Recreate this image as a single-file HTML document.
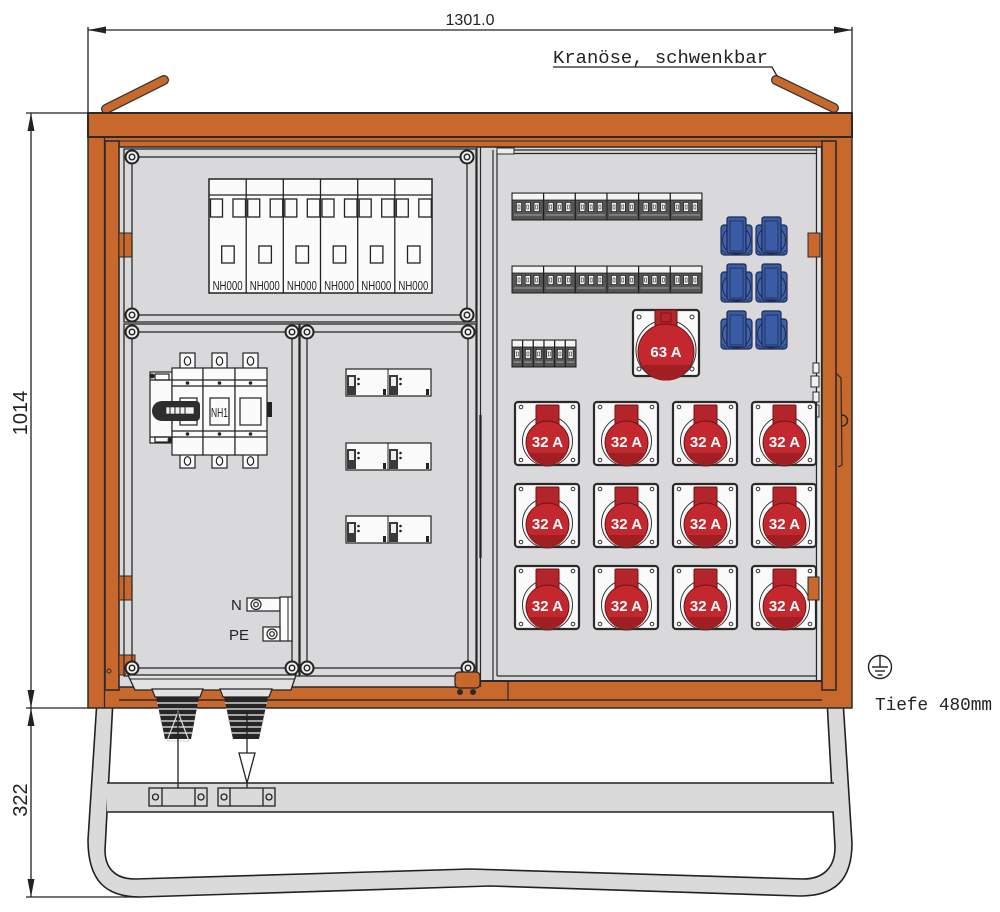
<!DOCTYPE html>
<html><head><meta charset="utf-8"><title>Baustromverteiler</title>
<style>html,body{margin:0;padding:0;background:#fff}svg{display:block}</style></head>
<body>
<svg xmlns="http://www.w3.org/2000/svg" width="1000" height="912" viewBox="0 0 1000 912">
<defs>
<g id="scr"><circle r="6.5" fill="#eeeeee" stroke="#222" stroke-width="2"/><circle r="2.8" fill="none" stroke="#222" stroke-width="1.4"/></g>
<g id="m3">
<rect x="0" y="0" width="31.67" height="27" fill="#555" stroke="#1a1a1a" stroke-width="1"/>
<rect x="0.6" y="0.6" width="30.4" height="6.4" fill="#f4f4f4"/>
<line x1="0" y1="7" x2="31.67" y2="7" stroke="#1a1a1a" stroke-width="0.8"/>
<rect x="4.5" y="9.5" width="5" height="9" fill="#f4f4f4" stroke="#111" stroke-width="0.6"/>
<rect x="13.3" y="9.5" width="5" height="9" fill="#f4f4f4" stroke="#111" stroke-width="0.6"/>
<rect x="22.1" y="9.5" width="5" height="9" fill="#f4f4f4" stroke="#111" stroke-width="0.6"/>
<rect x="6" y="12" width="2" height="4" fill="none" stroke="#111" stroke-width="0.5"/>
<rect x="14.8" y="12" width="2" height="4" fill="none" stroke="#111" stroke-width="0.5"/>
<rect x="23.6" y="12" width="2" height="4" fill="none" stroke="#111" stroke-width="0.5"/>
<line x1="2" y1="22" x2="29.6" y2="22" stroke="#bbb" stroke-width="0.8"/>
</g>
<g id="m1">
<rect x="0" y="0" width="10.67" height="27" fill="#555" stroke="#1a1a1a" stroke-width="1"/>
<rect x="0.6" y="0.6" width="9.4" height="6.4" fill="#f4f4f4"/>
<line x1="0" y1="7" x2="10.67" y2="7" stroke="#1a1a1a" stroke-width="0.8"/>
<rect x="2.8" y="9.5" width="5" height="9" fill="#f4f4f4" stroke="#111" stroke-width="0.6"/>
<rect x="4.3" y="12" width="2" height="4" fill="none" stroke="#111" stroke-width="0.5"/>
<line x1="1.5" y1="22" x2="9" y2="22" stroke="#bbb" stroke-width="0.8"/>
</g>
<g id="bs">
<rect x="0" y="8" width="31" height="30" rx="3" fill="#3e60ab" stroke="#1c2a52" stroke-width="1.2"/>
<circle cx="15.5" cy="23" r="14" fill="#4064ae" stroke="#1c2a52" stroke-width="1"/>
<rect x="6" y="0" width="19" height="36" rx="2" fill="#3a5ca6" stroke="#1c2a52" stroke-width="1.2"/>
<rect x="9" y="4" width="13" height="30" fill="none" stroke="#1c2a52" stroke-width="0.8"/>
<path d="M1,33 l4,4 M30,33 l-4,4" stroke="#1c2a52" stroke-width="0.8"/>
</g>
<g id="s32">
<rect x="1" y="1" width="64" height="63" rx="3" fill="#fafafa" stroke="#2a2a2a" stroke-width="2.2"/>
<circle cx="7" cy="6" r="1.8" fill="none" stroke="#333" stroke-width="1"/>
<circle cx="59" cy="6" r="1.8" fill="none" stroke="#333" stroke-width="1"/>
<circle cx="7" cy="59" r="1.8" fill="none" stroke="#333" stroke-width="1"/>
<circle cx="59" cy="59" r="1.8" fill="none" stroke="#333" stroke-width="1"/>
<circle cx="33.5" cy="40" r="25" fill="none" stroke="#333" stroke-width="1"/>
<rect x="22" y="4" width="23" height="20" rx="1" fill="#b3252b" stroke="#6e1216" stroke-width="1"/>
<circle cx="33.5" cy="41.5" r="21.5" fill="#c3282e" stroke="#6e1216" stroke-width="1"/>
<path d="M14,52 A21.5,21.5 0 0 0 53,52 Z" fill="#a11e23"/>
</g>
<g id="rcd">
<rect x="0" y="0" width="85" height="27" fill="#fafafa" stroke="#222" stroke-width="1.2"/>
<line x1="42" y1="0" x2="42" y2="27" stroke="#222" stroke-width="1"/>
<rect x="1" y="6" width="9" height="20" fill="#3a3a3a"/>
<rect x="3" y="8" width="5" height="9" fill="#eee"/>
<circle cx="12.5" cy="10" r="1.3" fill="#222"/><circle cx="12.5" cy="15" r="1.3" fill="#222"/>
<rect x="37" y="20" width="3" height="6" fill="#222"/>
<rect x="43" y="6" width="9" height="20" fill="#3a3a3a"/>
<rect x="45" y="8" width="5" height="9" fill="#eee"/>
<circle cx="54.5" cy="10" r="1.3" fill="#222"/><circle cx="54.5" cy="15" r="1.3" fill="#222"/>
<rect x="80" y="20" width="3" height="6" fill="#222"/>
</g>
</defs>

<rect width="1000" height="912" fill="#fff"/>

<!-- dimensions -->
<g stroke="#222" stroke-width="1.3" fill="none">
<line x1="88" y1="30" x2="852" y2="30"/>
<line x1="88" y1="27" x2="88" y2="113"/>
<line x1="852" y1="27" x2="852" y2="113"/>
<line x1="31" y1="113" x2="31" y2="897"/>
<line x1="26" y1="113" x2="88" y2="113"/>
<line x1="26" y1="708" x2="90" y2="708"/>
<line x1="26" y1="897" x2="140" y2="897"/>
</g>
<g fill="#222">
<polygon points="88,30 106,26.5 106,33.5"/>
<polygon points="852,30 834,26.5 834,33.5"/>
<polygon points="31,113 27.5,131 34.5,131"/>
<polygon points="31,708 27.5,690 34.5,690"/>
<polygon points="31,708 27.5,726 34.5,726"/>
<polygon points="31,897 27.5,879 34.5,879"/>
</g>
<text x="470" y="25" font-family="Liberation Sans, sans-serif" font-size="16" text-anchor="middle" fill="#222">1301.0</text>
<text transform="translate(27,413) rotate(-90)" font-family="Liberation Sans, sans-serif" font-size="20" text-anchor="middle" fill="#222">1014</text>
<text transform="translate(27,800) rotate(-90)" font-family="Liberation Sans, sans-serif" font-size="20" text-anchor="middle" fill="#222">322</text>

<!-- bottom tube skid -->
<path d="M97,700 L88,840 C88,880 105,897 140,897 L490,886 L800,896 C835,896 852,880 852,843 L843,700 L827,700 L835,847 C835,868 823,879 803,879 L470,869 L135,879 C115,879 105,868 105,850 L113,700 Z" fill="#dadada" stroke="#222" stroke-width="1.6"/>
<rect x="107" y="783" width="727" height="29" fill="#dadada"/>
<line x1="107" y1="783" x2="834" y2="783" stroke="#222" stroke-width="1.5"/>
<line x1="107" y1="812" x2="834" y2="812" stroke="#222" stroke-width="1.5"/>
<g fill="#dadada" stroke="#222" stroke-width="1.3">
<rect x="149" y="788" width="58" height="18"/>
<line x1="162" y1="788" x2="162" y2="806"/><line x1="195" y1="788" x2="195" y2="806"/>
<circle cx="155.5" cy="797" r="3"/><circle cx="201" cy="797" r="3"/>
<rect x="218" y="788" width="57" height="18"/>
<line x1="230" y1="788" x2="230" y2="806"/><line x1="263" y1="788" x2="263" y2="806"/>
<circle cx="224" cy="797" r="3"/><circle cx="269" cy="797" r="3"/>
</g>

<!-- lifting eyes -->
<line x1="106" y1="109" x2="164" y2="80" stroke="#333" stroke-width="10" stroke-linecap="round"/>
<line x1="106" y1="109" x2="164" y2="80" stroke="#c9682d" stroke-width="7.5" stroke-linecap="round"/>
<line x1="776" y1="80" x2="834" y2="108" stroke="#333" stroke-width="10" stroke-linecap="round"/>
<line x1="776" y1="80" x2="834" y2="108" stroke="#c9682d" stroke-width="7.5" stroke-linecap="round"/>

<!-- frame -->
<rect x="88" y="113" width="764" height="595" fill="#c9682d" stroke="#2a2a2a" stroke-width="1.5"/>
<rect x="119" y="147" width="359" height="540" fill="#d9d9db"/>
<rect x="478" y="147" width="339" height="534" fill="#d9d9db"/>
<rect x="816" y="147" width="6" height="534" fill="#e6e6e6"/>
<g stroke="#2a2a2a" fill="none">
<line x1="816.5" y1="147" x2="816.5" y2="681" stroke-width="1.3"/>
<line x1="821.5" y1="147" x2="821.5" y2="681" stroke-width="1.3"/>
<line x1="119" y1="147" x2="836" y2="147" stroke-width="1.5"/>
<line x1="119" y1="141" x2="822" y2="141" stroke-width="1"/>
<line x1="119" y1="700" x2="822" y2="700" stroke-width="1.5"/>
<line x1="119" y1="687" x2="478" y2="687" stroke-width="1.5"/>
<line x1="497" y1="676" x2="817" y2="676" stroke-width="1.2"/>
<line x1="478" y1="681" x2="822" y2="681" stroke-width="2"/>
<line x1="508" y1="681" x2="508" y2="700" stroke-width="1.2"/>
<line x1="104.5" y1="137" x2="104.5" y2="708" stroke-width="1.3"/>
</g>
<rect x="88" y="113" width="764" height="24" fill="#c9682d" stroke="#2a2a2a" stroke-width="2"/>
<!-- door bars -->
<rect x="105" y="141" width="14" height="549" fill="#c9682d" stroke="#2a2a2a" stroke-width="1.6"/>
<circle cx="109" cy="671" r="2" fill="none" stroke="#2a2a2a" stroke-width="1"/>
<rect x="822" y="141" width="14" height="549" fill="#c9682d" stroke="#2a2a2a" stroke-width="1.6"/>
<!-- handle right -->
<path d="M836,373 L841,378 L842,465 L838,467" fill="none" stroke="#2a2a2a" stroke-width="1.2"/>
<path d="M842,415 A5.5,5.5 0 0 1 842,426" fill="none" stroke="#2a2a2a" stroke-width="1.5"/>
<!-- latches -->
<g fill="#f0f0f0" stroke="#2a2a2a" stroke-width="1">
<rect x="813" y="363" width="6" height="10"/><rect x="811" y="376" width="8" height="11"/><rect x="813" y="392" width="6" height="10"/><rect x="812" y="405" width="7" height="12"/>
</g>
<!-- tabs -->
<g fill="#c9682d" stroke="#2a2a2a" stroke-width="1">
<rect x="119" y="233" width="13" height="24"/>
<rect x="119" y="576" width="13" height="24"/>
<rect x="808" y="233" width="12" height="24"/>
<rect x="808" y="577" width="11" height="23"/>
<polygon points="119,655 135,655 135,662 125,675 119,675"/>
</g>

<!-- divider -->
<g stroke="#2a2a2a" stroke-width="1.2" fill="none">
<line x1="477" y1="147" x2="477" y2="687"/>
<line x1="480.5" y1="147" x2="480.5" y2="687"/>
<line x1="493" y1="150" x2="493" y2="681"/>
<line x1="497" y1="150" x2="497" y2="676"/>
<line x1="497" y1="150" x2="816" y2="150"/>
<line x1="497" y1="153.5" x2="816" y2="153.5"/>
</g>
<line x1="480.5" y1="415" x2="480.5" y2="558" stroke="#222" stroke-width="2.2"/>
<rect x="497" y="148" width="17" height="6" fill="#eee" stroke="#2a2a2a" stroke-width="1"/>

<!-- left panels -->
<g stroke="#2a2a2a" stroke-width="1.3" fill="none">
<rect x="124" y="149" width="352" height="173"/>
<rect x="132" y="157" width="335" height="158"/>
<rect x="124" y="324" width="175" height="352"/>
<rect x="132" y="332" width="160" height="336"/>
<rect x="300" y="324" width="176" height="352"/>
<rect x="307" y="332" width="161" height="336"/>
</g>
<use href="#scr" x="132" y="157"/><use href="#scr" x="467" y="157"/>
<use href="#scr" x="132" y="315"/><use href="#scr" x="467" y="315"/>
<use href="#scr" x="132" y="332"/><use href="#scr" x="292" y="332"/>
<use href="#scr" x="132" y="668"/><use href="#scr" x="292" y="668"/>
<use href="#scr" x="307" y="332"/><use href="#scr" x="468" y="332"/>
<use href="#scr" x="307" y="668"/><use href="#scr" x="468" y="668"/>

<!-- NH000 block -->
<rect x="209" y="179" width="223" height="114" fill="#fbfbfb" stroke="#222" stroke-width="1.5"/>
<g stroke="#222" stroke-width="1.3" fill="none">
<line x1="209" y1="195" x2="432" y2="195"/>
<line x1="246.2" y1="179" x2="246.2" y2="293"/><line x1="283.3" y1="179" x2="283.3" y2="293"/>
<line x1="320.5" y1="179" x2="320.5" y2="293"/><line x1="357.7" y1="179" x2="357.7" y2="293"/>
<line x1="394.8" y1="179" x2="394.8" y2="293"/>
<rect x="210.5" y="199" width="12" height="18"/><rect x="233" y="199" width="12.5" height="18"/><rect x="221.7" y="246" width="12.5" height="17"/>
<rect x="247.7" y="199" width="12" height="18"/><rect x="270.2" y="199" width="12.5" height="18"/><rect x="258.9" y="246" width="12.5" height="17"/>
<rect x="284.8" y="199" width="12" height="18"/><rect x="307.3" y="199" width="12.5" height="18"/><rect x="296" y="246" width="12.5" height="17"/>
<rect x="322" y="199" width="12" height="18"/><rect x="344.5" y="199" width="12.5" height="18"/><rect x="333.2" y="246" width="12.5" height="17"/>
<rect x="359.2" y="199" width="12" height="18"/><rect x="381.7" y="199" width="12.5" height="18"/><rect x="370.4" y="246" width="12.5" height="17"/>
<rect x="396.3" y="199" width="12" height="18"/><rect x="418.8" y="199" width="12.5" height="18"/><rect x="407.5" y="246" width="12.5" height="17"/>
</g>
<g font-family="Liberation Sans, sans-serif" font-size="13" fill="#222" text-anchor="middle">
<rect x="211" y="278" width="34" height="14" fill="#fbfbfb"/><text x="227.6" y="290" textLength="30" lengthAdjust="spacingAndGlyphs">NH000</text>
<rect x="248" y="278" width="34" height="14" fill="#fbfbfb"/><text x="264.8" y="290" textLength="30" lengthAdjust="spacingAndGlyphs">NH000</text>
<rect x="285" y="278" width="34" height="14" fill="#fbfbfb"/><text x="301.9" y="290" textLength="30" lengthAdjust="spacingAndGlyphs">NH000</text>
<rect x="322" y="278" width="34" height="14" fill="#fbfbfb"/><text x="339.1" y="290" textLength="30" lengthAdjust="spacingAndGlyphs">NH000</text>
<rect x="359" y="278" width="34" height="14" fill="#fbfbfb"/><text x="376.3" y="290" textLength="30" lengthAdjust="spacingAndGlyphs">NH000</text>
<rect x="396" y="278" width="34" height="14" fill="#fbfbfb"/><text x="413.4" y="290" textLength="30" lengthAdjust="spacingAndGlyphs">NH000</text>
</g>

<!-- switch disconnector -->
<g fill="#fbfbfb" stroke="#222" stroke-width="1.2">
<rect x="180" y="353" width="15" height="16"/><rect x="212" y="353" width="15" height="16"/><rect x="243" y="353" width="15" height="16"/>
<rect x="180" y="454" width="15" height="14"/><rect x="212" y="454" width="15" height="14"/><rect x="243" y="454" width="15" height="14"/>
<rect x="150" y="372" width="22" height="71"/>
<rect x="172" y="368" width="31" height="87"/><rect x="203" y="368" width="32" height="87"/><rect x="235" y="368" width="32" height="87"/>
</g>
<g fill="none" stroke="#222" stroke-width="1.2">
<ellipse cx="187.5" cy="361" rx="3.2" ry="4.3"/><ellipse cx="219.5" cy="361" rx="3.2" ry="4.3"/><ellipse cx="250.5" cy="361" rx="3.2" ry="4.3"/>
<ellipse cx="187.5" cy="461" rx="3.2" ry="4.3"/><ellipse cx="219.5" cy="461" rx="3.2" ry="4.3"/><ellipse cx="250.5" cy="461" rx="3.2" ry="4.3"/>
<line x1="150" y1="380" x2="267" y2="380"/><line x1="172" y1="386" x2="267" y2="386"/>
<line x1="172" y1="431" x2="267" y2="431"/><line x1="150" y1="437" x2="267" y2="437"/>
<rect x="180" y="398" width="17" height="27"/>
<rect x="210" y="398" width="19" height="27"/>
<rect x="240" y="398" width="21" height="27"/>
<rect x="155" y="374" width="14" height="6"/>
<rect x="155" y="437" width="14" height="5"/>
</g>
<g fill="#222">
<circle cx="187.5" cy="383" r="1.8"/><circle cx="219.5" cy="383" r="1.8"/><circle cx="250.5" cy="383" r="1.8"/>
<circle cx="187.5" cy="434" r="1.8"/><circle cx="219.5" cy="434" r="1.8"/><circle cx="250.5" cy="434" r="1.8"/>
<rect x="267" y="402" width="5" height="15"/>
<circle cx="152" cy="376" r="2.5"/><circle cx="170" cy="440" r="2.5"/>
</g>
<text x="219.5" y="417" font-family="Liberation Sans, sans-serif" font-size="13" fill="#222" text-anchor="middle" textLength="17" lengthAdjust="spacingAndGlyphs">NH1</text>
<path d="M162,401 h34 a4,4 0 0 1 4,4 v12 a4,4 0 0 1 -4,4 h-34 a10,10 0 0 1 0,-20 z" fill="#2e2e2e"/>
<rect x="166" y="407" width="28" height="7" fill="#f0f0f0" stroke="#222" stroke-width="0.6"/>
<g stroke="#222" stroke-width="1"><line x1="170" y1="407" x2="170" y2="414"/><line x1="175" y1="407" x2="175" y2="414"/><line x1="180" y1="407" x2="180" y2="414"/><line x1="185" y1="407" x2="185" y2="414"/></g>

<!-- small breakers -->
<use href="#rcd" x="346" y="369"/>
<use href="#rcd" x="346" y="443"/>
<use href="#rcd" x="346" y="516"/>

<!-- N / PE -->
<g font-family="Liberation Sans, sans-serif" font-size="15" fill="#222">
<text x="231" y="610">N</text>
<text x="229" y="640">PE</text>
</g>
<g fill="#fbfbfb" stroke="#222" stroke-width="1.2">
<rect x="247" y="598" width="33" height="13"/>
<rect x="280" y="597" width="12" height="44"/>
<rect x="263" y="627" width="17" height="14"/>
<circle cx="256" cy="604.5" r="5"/><circle cx="256" cy="604.5" r="2.3"/>
<circle cx="272" cy="634" r="5"/><circle cx="272" cy="634" r="2.3"/>
</g>
<line x1="288" y1="597" x2="288" y2="641" stroke="#222" stroke-width="1"/>

<!-- gland plate & glands -->
<polygon points="128,675 296,675 291,690 135,690" fill="#e2e2e2" stroke="#222" stroke-width="1.3"/>
<line x1="130" y1="679" x2="294" y2="679" stroke="#222" stroke-width="1"/>
<rect x="455" y="672" width="25" height="16" rx="4" fill="#c9682d" stroke="#222" stroke-width="1.2"/>
<circle cx="460" cy="692" r="3" fill="#2a2a2a"/><circle cx="473" cy="692" r="3" fill="#2a2a2a"/>
<g>
<polygon points="152,689 203,689 200,697 155,697" fill="#e2e2e2" stroke="#222" stroke-width="1.2"/>
<polygon points="156,697 199,697 191,739 165,739" fill="#262626"/>
<g stroke="#cfcfcf" stroke-width="1.4"><line x1="157" y1="703" x2="198" y2="703"/><line x1="158" y1="709" x2="197" y2="709"/><line x1="159" y1="715" x2="196" y2="715"/><line x1="160" y1="721" x2="195" y2="721"/><line x1="162" y1="727" x2="193" y2="727"/><line x1="163" y1="733" x2="192" y2="733"/></g>
<polygon points="178,712 167,741 189,741" fill="none" stroke="#dcdcdc" stroke-width="1.2"/>
<line x1="178" y1="712" x2="178" y2="788" stroke="#222" stroke-width="1.3"/>
</g>
<g>
<polygon points="220,689 272,689 269,697 223,697" fill="#e2e2e2" stroke="#222" stroke-width="1.2"/>
<polygon points="224,697 268,697 259,739 233,739" fill="#262626"/>
<g stroke="#cfcfcf" stroke-width="1.4"><line x1="225" y1="703" x2="267" y2="703"/><line x1="226" y1="709" x2="266" y2="709"/><line x1="227" y1="715" x2="265" y2="715"/><line x1="228" y1="721" x2="264" y2="721"/><line x1="230" y1="727" x2="262" y2="727"/><line x1="231" y1="733" x2="261" y2="733"/></g>
<line x1="247" y1="712" x2="247" y2="788" stroke="#222" stroke-width="1.3"/>
<polygon points="239,753 255,753 247,783" fill="#fff" stroke="#222" stroke-width="1.3"/>
</g>

<!-- MCB rows -->
<use href="#m3" x="512" y="193"/><use href="#m3" x="543.67" y="193"/><use href="#m3" x="575.33" y="193"/>
<use href="#m3" x="607" y="193"/><use href="#m3" x="638.67" y="193"/><use href="#m3" x="670.33" y="193"/>
<use href="#m3" x="512" y="266"/><use href="#m3" x="543.67" y="266"/><use href="#m3" x="575.33" y="266"/>
<use href="#m3" x="607" y="266"/><use href="#m3" x="638.67" y="266"/><use href="#m3" x="670.33" y="266"/>
<use href="#m1" x="512" y="340"/><use href="#m1" x="522.67" y="340"/><use href="#m1" x="533.33" y="340"/>
<use href="#m1" x="544" y="340"/><use href="#m1" x="554.67" y="340"/><use href="#m1" x="565.33" y="340"/>

<!-- blue sockets -->
<use href="#bs" x="721" y="217"/><use href="#bs" x="756" y="217"/>
<use href="#bs" x="721" y="264"/><use href="#bs" x="756" y="264"/>
<use href="#bs" x="721" y="311"/><use href="#bs" x="756" y="311"/>

<!-- 63A socket -->
<rect x="633" y="310" width="66" height="66" rx="3" fill="#fafafa" stroke="#2a2a2a" stroke-width="2.2"/>
<circle cx="639" cy="317" r="2" fill="none" stroke="#333"/><circle cx="692" cy="317" r="2" fill="none" stroke="#333"/>
<circle cx="639" cy="369" r="2" fill="none" stroke="#333"/><circle cx="692" cy="369" r="2" fill="none" stroke="#333"/>
<circle cx="666" cy="350" r="30" fill="none" stroke="#333" stroke-width="1"/>
<rect x="655" y="310" width="22" height="17" fill="#b3252b" stroke="#6e1216" stroke-width="1"/>
<rect x="661" y="313" width="10" height="9" fill="none" stroke="#6e1216" stroke-width="0.8"/>
<circle cx="666" cy="352" r="28" fill="#c3282e" stroke="#6e1216" stroke-width="1"/>
<path d="M641,365 A28,28 0 0 0 691,365 Z" fill="#a11e23"/>
<text x="666" y="357" font-family="Liberation Sans, sans-serif" font-weight="bold" font-size="15" fill="#fff" text-anchor="middle">63 A</text>

<!-- 32A sockets -->
<use href="#s32" x="514" y="401"/><use href="#s32" x="593" y="401"/><use href="#s32" x="672" y="401"/><use href="#s32" x="751" y="401"/>
<use href="#s32" x="514" y="483"/><use href="#s32" x="593" y="483"/><use href="#s32" x="672" y="483"/><use href="#s32" x="751" y="483"/>
<use href="#s32" x="514" y="565"/><use href="#s32" x="593" y="565"/><use href="#s32" x="672" y="565"/><use href="#s32" x="751" y="565"/>
<g font-family="Liberation Sans, sans-serif" font-weight="bold" font-size="15" fill="#fff" text-anchor="middle">
<text x="547.5" y="447">32 A</text><text x="626.5" y="447">32 A</text><text x="705.5" y="447">32 A</text><text x="784.5" y="447">32 A</text>
<text x="547.5" y="529">32 A</text><text x="626.5" y="529">32 A</text><text x="705.5" y="529">32 A</text><text x="784.5" y="529">32 A</text>
<text x="547.5" y="611">32 A</text><text x="626.5" y="611">32 A</text><text x="705.5" y="611">32 A</text><text x="784.5" y="611">32 A</text>
</g>
<rect x="808" y="577" width="11" height="23" fill="#c9682d" stroke="#2a2a2a" stroke-width="1"/>

<!-- annotations -->
<text x="553" y="63" font-family="Liberation Mono, monospace" font-size="18.5" fill="#222" textLength="215" lengthAdjust="spacingAndGlyphs">Kranöse, schwenkbar</text>
<polyline points="553,67 772,67 777,76" fill="none" stroke="#222" stroke-width="1.3"/>
<g fill="none" stroke="#222" stroke-width="1.4">
<circle cx="880" cy="667" r="11.5"/>
<line x1="880" y1="656" x2="880" y2="667"/>
<line x1="872" y1="667" x2="888" y2="667"/>
<line x1="875" y1="671" x2="885" y2="671"/>
<line x1="877.5" y1="675" x2="882.5" y2="675"/>
</g>
<text x="875" y="710" font-family="Liberation Mono, monospace" font-size="18" fill="#222" textLength="117" lengthAdjust="spacingAndGlyphs">Tiefe 480mm</text>
</svg>
</body></html>
